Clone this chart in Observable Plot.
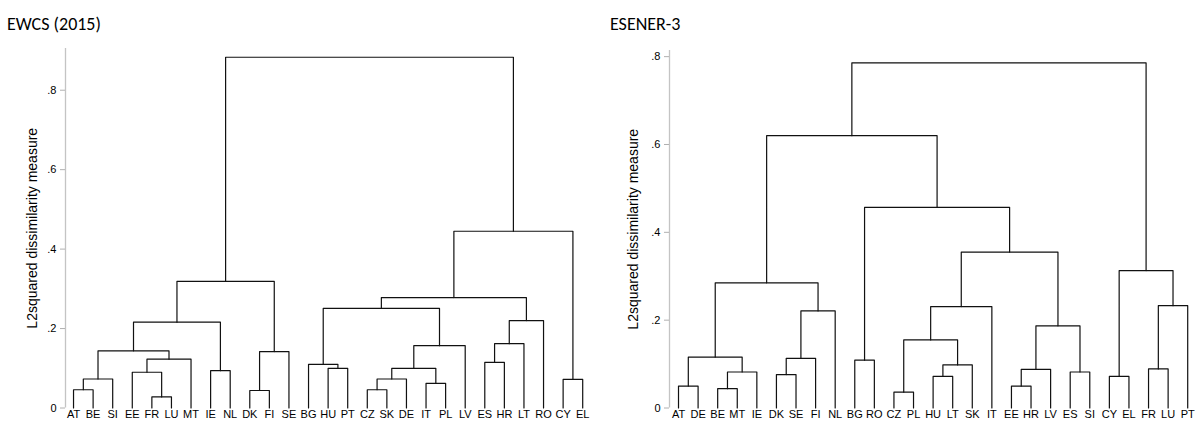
<!DOCTYPE html>
<html><head><meta charset="utf-8">
<script src="https://cdn.jsdelivr.net/npm/d3@7"></script>
<script src="https://cdn.jsdelivr.net/npm/@observablehq/plot@0.6"></script>
<style>
body{margin:0;background:#fff;}
#wrap{display:flex;width:1197px;height:421px;overflow:hidden;}
.panel{position:relative;height:421px;}
.title{position:absolute;font-family:Carlito,Lato,sans-serif;font-size:18px;line-height:1;color:#000;top:15px;white-space:nowrap;}
</style></head><body><div id="wrap"></div>
<script>
// ---- EWCS (2015) ----
const ewcsLeaves = ["AT","BE","SI","EE","FR","LU","MT","IE","NL","DK","FI","SE","BG","HU","PT","CZ","SK","DE","IT","PL","LV","ES","HR","LT","RO","CY","EL"];
// [node id, child A, child B, dissimilarity]
const ewcsMerges = [
  ["m0","FR","LU",0.028],
  ["m1","DK","FI",0.044],
  ["m2","AT","BE",0.046],
  ["m3","CZ","SK",0.046],
  ["m4","IT","PL",0.062],
  ["m5","CY","EL",0.072],
  ["m6","m2","SI",0.073],
  ["m7","m3","DE",0.073],
  ["m8","EE","m0",0.090],
  ["m9","IE","NL",0.094],
  ["m10","HU","PT",0.100],
  ["m11","m7","m4",0.100],
  ["m12","BG","m10",0.110],
  ["m13","ES","HR",0.115],
  ["m14","m8","MT",0.123],
  ["m15","m1","SE",0.142],
  ["m16","m6","m14",0.144],
  ["m17","m11","LV",0.157],
  ["m18","m13","LT",0.162],
  ["m19","m16","m9",0.216],
  ["m20","m18","RO",0.220],
  ["m21","m12","m17",0.251],
  ["m22","m21","m20",0.278],
  ["m23","m19","m15",0.319],
  ["m24","m22","m5",0.445],
  ["m25","m23","m24",0.883]
];
// ---- ESENER-3 ----
const esenerLeaves = ["AT","DE","BE","MT","IE","DK","SE","FI","NL","BG","RO","CZ","PL","HU","LT","SK","IT","EE","HR","LV","ES","SI","CY","EL","FR","LU","PT"];
const esenerMerges = [
  ["e0","CZ","PL",0.036],
  ["e1","BE","MT",0.044],
  ["e2","AT","DE",0.050],
  ["e3","EE","HR",0.050],
  ["e4","HU","LT",0.072],
  ["e5","CY","EL",0.072],
  ["e6","DK","SE",0.076],
  ["e7","e1","IE",0.082],
  ["e8","ES","SI",0.082],
  ["e9","e3","LV",0.088],
  ["e10","FR","LU",0.089],
  ["e11","e4","SK",0.098],
  ["e12","BG","RO",0.109],
  ["e13","e6","FI",0.113],
  ["e14","e2","e7",0.116],
  ["e15","e0","e11",0.155],
  ["e16","e9","e8",0.187],
  ["e17","e13","NL",0.221],
  ["e18","e15","IT",0.231],
  ["e19","e10","PT",0.233],
  ["e20","e14","e17",0.285],
  ["e21","e5","e19",0.313],
  ["e22","e18","e16",0.355],
  ["e23","e12","e22",0.457],
  ["e24","e20","e23",0.620],
  ["e25","e24","e21",0.786]
];
const yTicks = [0, 0.2, 0.4, 0.6, 0.8];
const yTitle = "L2squared dissimilarity measure";
const titles = ["EWCS (2015)", "ESENER-3"];

function buildPaths(leaves, merges) {
  const pos = new Map(leaves.map((d, i) => [d, {x: i, y: 0}]));
  const pts = [];
  for (const [id, a, b, h] of merges) {
    const A = pos.get(a), B = pos.get(b);
    pts.push({id, x: A.x, y: A.y}, {id, x: A.x, y: h}, {id, x: B.x, y: h}, {id, x: B.x, y: B.y});
    pos.set(id, {x: (A.x + B.x) / 2, y: h});
  }
  return pts;
}
const fmtY = d => d === 0 ? "0" : d3.format(".1f")(d).replace(/^0/, "");

function dendro(o) {
  const pts = buildPaths(o.leaves, o.merges);
  const plot = Plot.plot({
    width: o.width, height: 421,
    marginLeft: o.marginLeft, marginRight: o.marginRight,
    marginTop: o.marginTop, marginBottom: 13.5,
    x: {domain: o.xDomain},
    y: {domain: [0, o.yMax]},
    style: {fontFamily: "'Liberation Sans', Arial, sans-serif", background: "white", overflow: "visible"},
    marks: [
      Plot.ruleX([o.xDomain[0]], {y1: 0, y2: o.yMax, stroke: "#c4c4c4", strokeWidth: 1.3}),
      Plot.axisY(yTicks, {tickSize: 5, tickPadding: 4, stroke: "#b0b0b0", fill: "#000", fontSize: 11, tickFormat: fmtY, label: null}),
      Plot.axisX(d3.range(o.leaves.length), {tickSize: 0, tickPadding: 2, tickFormat: i => o.leaves[i], fontSize: 11, fill: "#000", label: null}),
      Plot.line(pts, {x: "x", y: "y", z: "id", stroke: "#111", strokeWidth: 1.2, curve: "linear"}),
      Plot.text([yTitle], {text: d => d, frameAnchor: "left", textAnchor: "middle", dx: o.titleDx, rotate: -90, fontSize: 14, fill: "#000"})
    ]
  });
  const panel = document.createElement("div");
  panel.className = "panel";
  panel.style.width = o.width + "px";
  panel.appendChild(plot);
  const t = document.createElement("div");
  t.className = "title";
  t.style.left = o.titleLeft + "px";
  t.textContent = o.title;
  panel.appendChild(t);
  document.getElementById("wrap").appendChild(panel);
}

dendro({leaves: ewcsLeaves, merges: ewcsMerges, width: 600, xDomain: [-0.41, 26.5],
  marginLeft: 65, marginRight: 8, marginTop: 48, yMax: 0.905, titleDx: -33, title: titles[0], titleLeft: 7});
dendro({leaves: esenerLeaves, merges: esenerMerges, width: 597, xDomain: [-0.46, 26.5],
  marginLeft: 69, marginRight: 0, marginTop: 50, yMax: 0.814, titleDx: -36, title: titles[1], titleLeft: 10});
</script></body></html>
